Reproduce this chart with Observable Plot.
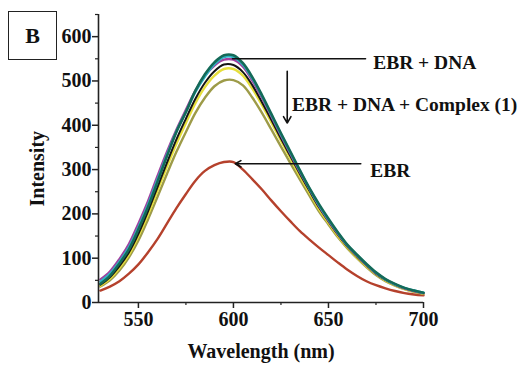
<!DOCTYPE html>
<html>
<head>
<meta charset="utf-8">
<script src="https://cdn.jsdelivr.net/npm/d3@7"></script>
<script src="https://cdn.jsdelivr.net/npm/@observablehq/plot@0.6"></script>
<style>
  html, body { margin: 0; padding: 0; background: #fff; }
  #wrap { position: relative; width: 524px; height: 367px; }
  #panel {
    position: absolute; left: 8px; top: 11px; width: 49px; height: 49px;
    border: 1.5px solid #222; box-sizing: border-box;
    font: bold 22px "Liberation Serif", serif; color: #111;
    display: flex; align-items: center; justify-content: center;
  }
</style>
</head>
<body>
<div id="wrap"><div id="panel">B</div></div>
<script>
// Wavelength grid (nm)
const wavelengths = [530,535,540,545,550,555,560,565,570,575,580,585,590,595,600,605,610,615,620,625,630,635,640,645,650,655,660,665,670,675,680,685,690,695,700];

// Series (Intensity)
const ebr      = [27,36,48,65,86,113,143,178,213,245,275,297,310,317,317,300,278,255,230,206,183,161,142,124,107,90,74,60,48,39,32,26,21,18,16];
const olive    = [36,50,72,102,140,187,238,290,340,385,428,462,488,501,502,490,462,428,390,352,314,277,241,206,176,147,122,100,80,62,48,38,30,24,19];
const yellow   = [38,54,78,108,150,198,252,306,358,405,450,486,512,527,527,512,482,446,406,365,325,285,248,211,180,150,124,102,82,64,50,39,31,25,20];
const black    = [40,57,82,113,155,205,260,315,368,415,460,496,522,537,536,520,490,452,412,370,330,290,252,215,183,153,126,104,84,65,51,40,32,26,21];
const magenta  = [52,70,98,132,178,228,285,340,390,435,478,512,535,548,548,532,500,462,420,377,335,294,256,218,185,155,128,106,85,66,52,41,32,26,21];
const cyan     = [47,65,92,125,170,220,277,333,386,430,475,510,538,554,554,537,505,466,423,380,338,297,257,220,187,157,129,107,86,67,52,41,33,27,22];
const ebrDna   = [42,60,88,120,165,215,272,330,385,430,478,515,542,558,558,540,508,468,425,382,340,298,258,222,189,158,130,108,87,68,53,42,33,27,22];

const seriesNames  = ["EBR","s6","s5","s4","s3","s2","EBR + DNA"];
const seriesValues = [ebr, olive, yellow, black, magenta, cyan, ebrDna];
const seriesColors = ["#b5412c","#9d9b48","#e6df3c","#151515","#a0409f","#2fb3c4","#146a58"];
const seriesWidths = [2.4, 2.4, 2.4, 2, 2.4, 2.4, 2.6];

// Axes
const xDomain = [529, 700];
const yDomain = [0, 650];
const xTicks = [550, 600, 650, 700];
const xMinor = [575, 625, 675];
const yTicks = [0, 100, 200, 300, 400, 500, 600];
const yMinor = [50, 150, 250, 350, 450, 550, 650];

// Annotations (data space)
const annLines = [
  {x1: 599.5, y1: 550, x2: 669.5, y2: 550, head: 0},
  {x1: 628.3, y1: 522, x2: 628.3, y2: 405, head: 7},
  {x1: 667, y1: 313, x2: 601, y2: 313, head: 6}
];
const annTexts = [
  {x: 673.5, y: 540, text: "EBR + DNA"},
  {x: 630.8, y: 446, text: "EBR + DNA + Complex (1)"},
  {x: 672, y: 298, text: "EBR"}
];

const rows = [];
seriesValues.forEach((vals, i) => {
  vals.forEach((v, j) => rows.push({series: seriesNames[i], idx: i, x: wavelengths[j], y: v}));
});

const lineMarks = seriesNames.map((name, i) =>
  Plot.line(rows.filter(d => d.idx === i), {
    x: "x", y: "y", stroke: seriesColors[i], strokeWidth: seriesWidths[i], curve: "catmull-rom"
  })
);

const chart = Plot.plot({
  width: 524,
  height: 367,
  marginLeft: 98,
  marginRight: 101,
  marginTop: 14,
  marginBottom: 65,
  style: {fontFamily: "Liberation Serif, serif", fontWeight: "bold", fontSize: "20px", color: "#111", background: "transparent"},
  x: {domain: xDomain},
  y: {domain: yDomain},
  marks: [
    ...lineMarks,
    Plot.ruleX([xDomain[0]], {stroke: "#222", strokeWidth: 1.6}),
    Plot.ruleY([0], {stroke: "#222", strokeWidth: 1.6}),
    Plot.axisY({ticks: yTicks, tickSize: 6, tickPadding: 1, label: null, stroke: "#222", strokeWidth: 1.5, fontSize: 20}),
    Plot.axisY({ticks: yMinor, tickSize: 3, text: null, label: null, stroke: "#222", strokeWidth: 1.2}),
    Plot.axisX({ticks: xTicks, tickSize: 6, tickPadding: 3, label: null, stroke: "#222", strokeWidth: 1.5, fontSize: 20}),
    Plot.axisX({ticks: xMinor, tickSize: 3, text: null, label: null, stroke: "#222", strokeWidth: 1.2}),
    Plot.text(["Intensity"], {frameAnchor: "left", rotate: -90, dx: -61, dy: 48, fontSize: 20, fill: "#111"}),
    Plot.text(["Wavelength (nm)"], {frameAnchor: "bottom", dy: 55, fontSize: 20, fill: "#111"}),
    ...annLines.map(a => Plot.arrow([a], {x1: "x1", y1: "y1", x2: "x2", y2: "y2", bend: 0, headLength: a.head, stroke: "#111", strokeWidth: 1.6})),
    Plot.text(annTexts, {x: "x", y: "y", text: "text", textAnchor: "start", fontSize: 19.5, fill: "#111"})
  ]
});
document.getElementById("wrap").appendChild(chart);
chart.style.position = "absolute";
chart.style.left = "0";
chart.style.top = "0";
chart.style.overflow = "visible";
</script>
</body>
</html>
